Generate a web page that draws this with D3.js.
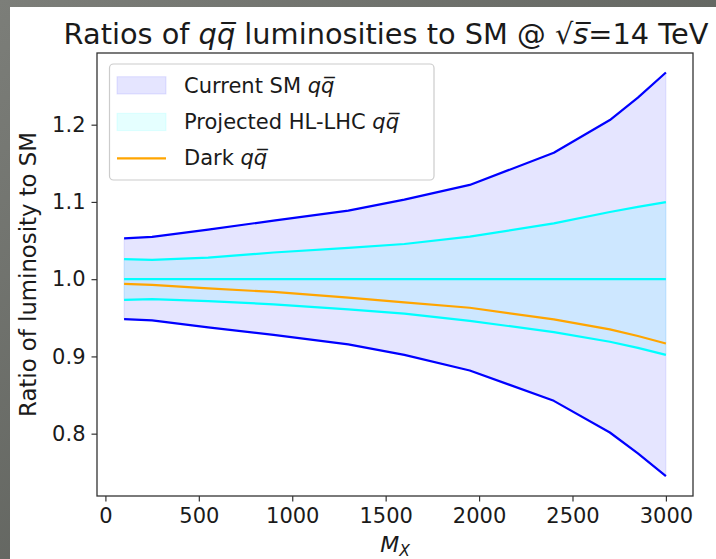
<!DOCTYPE html>
<html>
<head>
<meta charset="utf-8">
<script src="https://cdn.jsdelivr.net/npm/d3@7"></script>
<style>
  html, body { margin: 0; padding: 0; background: #5f615c; }
  svg { display: block; }
  text { font-family: "DejaVu Sans", sans-serif; fill: #1a1a1a; }
</style>
</head>
<body>
<svg id="chart" width="716" height="559"></svg>
<script>
// ---- data ----
const massPoints   = [100, 250, 550, 900, 1300, 1600, 1950, 2400, 2700, 2850, 3000];
const smUpper      = [1.0527, 1.0547, 1.0641, 1.0759, 1.0887, 1.1030, 1.1220, 1.1636, 1.2060, 1.2351, 1.2675];
const smLower      = [0.9483, 0.9466, 0.9377, 0.9280, 0.9155, 0.9020, 0.8818, 0.8425, 0.8015, 0.7745, 0.7450];
const hlUpper      = [1.0259, 1.0250, 1.0280, 1.0345, 1.0405, 1.0455, 1.0550, 1.0722, 1.0870, 1.0935, 1.0998];
const hlLower      = [0.9732, 0.9741, 0.9715, 0.9675, 0.9610, 0.9555, 0.9460, 0.9315, 0.9190, 0.9110, 0.9020];
const darkRatio    = [0.9939, 0.9925, 0.9880, 0.9835, 0.9760, 0.9700, 0.9630, 0.9480, 0.9350, 0.9265, 0.9168];
const centralRatio = [1.0, 1.0, 1.0, 1.0, 1.0, 1.0, 1.0, 1.0, 1.0, 1.0, 1.0];
const xTicks = [0, 500, 1000, 1500, 2000, 2500, 3000];
const yTicks = [0.8, 0.9, 1.0, 1.1, 1.2];

const svg = d3.select("#chart");

// figure background (white panel over dark backdrop)
const defs = svg.append("defs");
const grad = defs.append("linearGradient").attr("id", "bg").attr("x1", 0).attr("y1", 0).attr("x2", 1).attr("y2", 1);
grad.append("stop").attr("offset", "0%").attr("stop-color", "#7c7e79");
grad.append("stop").attr("offset", "100%").attr("stop-color", "#4f524d");
svg.append("rect").attr("width", 716).attr("height", 559).attr("fill", "url(#bg)");
svg.append("rect").attr("x", 10).attr("y", 7).attr("width", 706).attr("height", 552).attr("fill", "#ffffff");

const L = 97, R = 693, T = 53, B = 496;
const x = d3.scaleLinear().domain([-45, 3145]).range([L, R]);
const y = d3.scaleLinear().domain([0.7193, 1.2928]).range([B, T]);

const idx = d3.range(massPoints.length);
const area = (lo, hi) => d3.area().x(i => x(massPoints[i])).y0(i => y(lo[i])).y1(i => y(hi[i]));
const line = (arr) => d3.line().x(i => x(massPoints[i])).y(i => y(arr[i]));

const plot = svg.append("g");
plot.append("path").attr("d", area(smLower, smUpper)(idx))
  .attr("fill", "rgba(0,0,255,0.1)").attr("stroke", "rgba(0,0,255,0.1)").attr("stroke-width", 1);
plot.append("path").attr("d", area(hlLower, hlUpper)(idx))
  .attr("fill", "rgba(0,255,255,0.1)").attr("stroke", "rgba(0,255,255,0.1)").attr("stroke-width", 1);

const lines = [
  [smUpper, "#0000ff"], [smLower, "#0000ff"],
  [hlUpper, "#00ffff"], [hlLower, "#00ffff"],
  [centralRatio, "#00ffff"], [darkRatio, "#ffa500"]
];
lines.forEach(([arr, c]) => {
  plot.append("path").attr("d", line(arr)(idx)).attr("fill", "none")
    .attr("stroke", c).attr("stroke-width", 2.2).attr("stroke-linejoin", "round");
});

// axes
const axisColor = "#333333";
const gx = svg.append("g").attr("transform", `translate(0,${B})`)
  .call(d3.axisBottom(x).tickValues(xTicks).tickSize(5.5).tickPadding(7).tickFormat(d3.format("d")));
const gy = svg.append("g").attr("transform", `translate(${L},0)`)
  .call(d3.axisLeft(y).tickValues(yTicks).tickSize(5.5).tickPadding(6).tickFormat(d3.format(".1f")));
[gx, gy].forEach(g => {
  g.select(".domain").remove();
  g.selectAll(".tick line").attr("stroke", axisColor).attr("stroke-width", 1.2);
  g.selectAll(".tick text").attr("font-size", 21).attr("font-family", "DejaVu Sans").attr("fill", "#1a1a1a");
});
svg.append("rect").attr("x", L).attr("y", T).attr("width", R - L).attr("height", B - T)
  .attr("fill", "none").attr("stroke", axisColor).attr("stroke-width", 1.3);

// axis labels
const xl = svg.append("text").attr("x", (L + R) / 2).attr("y", 552).attr("text-anchor", "middle").attr("font-size", 22);
xl.append("tspan").attr("font-style", "italic").text("M");
xl.append("tspan").attr("font-style", "italic").attr("font-size", 15.5).attr("dy", 4).text("X");

svg.append("text").attr("transform", `translate(36,${(T + B) / 2}) rotate(-90)`)
  .attr("text-anchor", "middle").attr("font-size", 22.8).text("Ratio of luminosity to SM");

// title
const title = svg.append("text").attr("x", 386).attr("y", 44).attr("text-anchor", "middle").attr("font-size", 28.8);
title.append("tspan").text("Ratios of ");
title.append("tspan").attr("font-style", "italic").text("q");
title.append("tspan").attr("font-style", "italic").text("q\u0305");
title.append("tspan").text(" luminosities to SM @ \u221A");
title.append("tspan").attr("font-style", "italic").text("s\u0305");
title.append("tspan").text("=14 TeV");

// legend
const lg = svg.append("g");
lg.append("rect").attr("x", 109.5).attr("y", 64).attr("width", 324.5).attr("height", 116).attr("rx", 4)
  .attr("fill", "rgba(255,255,255,0.8)").attr("stroke", "#cccccc").attr("stroke-width", 1.2);
lg.append("rect").attr("x", 117).attr("y", 76.7).attr("width", 49).attr("height", 17.3)
  .attr("fill", "rgba(0,0,255,0.1)").attr("stroke", "rgba(0,0,255,0.1)");
lg.append("rect").attr("x", 117).attr("y", 113.3).attr("width", 49).attr("height", 17.3)
  .attr("fill", "rgba(0,255,255,0.1)").attr("stroke", "rgba(0,255,255,0.1)");
lg.append("line").attr("x1", 117).attr("x2", 166).attr("y1", 158.3).attr("y2", 158.3)
  .attr("stroke", "#ffa500").attr("stroke-width", 2.2);
const legendItems = [["Current SM ", 92.7], ["Projected HL-LHC ", 128.5], ["Dark ", 165]];
legendItems.forEach(([lab, by]) => {
  const t = lg.append("text").attr("x", 184).attr("y", by).attr("font-size", 21);
  t.append("tspan").text(lab);
  t.append("tspan").attr("font-style", "italic").text("q");
  t.append("tspan").attr("font-style", "italic").text("q\u0305");
});
</script>
</body>
</html>
